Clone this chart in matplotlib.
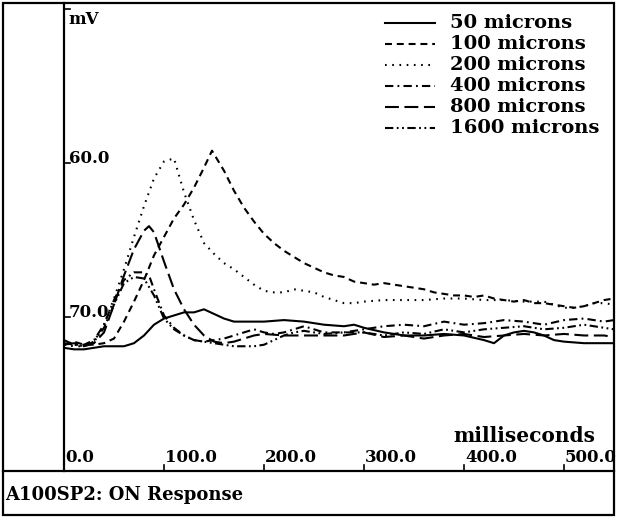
import matplotlib
matplotlib.use("Agg")
import matplotlib.pyplot as plt
from matplotlib.lines import Line2D
from matplotlib.patches import Rectangle
import matplotlib.transforms as mtransforms

plt.rcParams['font.family'] = ['DejaVu Serif']
plt.rcParams['font.weight'] = 'bold'
plt.rcParams['lines.scale_dashes'] = False

# ---------------- data (time in ms, potential in mV) ----------------
t_50 = [0, 10, 20, 30, 40, 50, 60, 70, 80, 90, 100, 110, 120, 130, 140, 150, 160, 170, 180, 190,
        200, 220, 240, 260, 280, 290, 300, 320, 340, 360, 380, 400, 420, 430, 440, 450, 460, 470,
        480, 490, 500, 520, 540, 550]
v_50 = [-72.0, -72.1, -72.1, -72.0, -71.9, -71.9, -71.9, -71.7, -71.2, -70.5, -70.1, -69.9, -69.7,
        -69.7, -69.5, -69.8, -70.1, -70.3, -70.3, -70.3, -70.3, -70.2, -70.3, -70.5, -70.6, -70.5,
        -70.7, -71.0, -71.2, -71.2, -71.1, -71.2, -71.5, -71.7, -71.2, -71.0, -70.9, -71.0, -71.2,
        -71.5, -71.6, -71.7, -71.7, -71.7]

t_100 = [0, 10, 20, 30, 40, 50, 60, 70, 80, 90, 100, 110, 120, 130, 140, 148, 160, 170, 180, 190,
         200, 210, 220, 230, 240, 250, 260, 270, 280, 290, 300, 310, 320, 330, 340, 350, 360, 370,
         380, 390, 400, 410, 420, 430, 440, 450, 460, 470, 480, 490, 500, 510, 520, 530, 540, 550]
v_100 = [-71.8, -71.6, -71.8, -71.8, -71.7, -71.4, -70.3, -69.0, -67.6, -66.0, -64.8, -63.6, -62.7,
         -61.6, -60.3, -59.2, -60.5, -61.8, -62.9, -63.8, -64.6, -65.2, -65.7, -66.1, -66.5, -66.8,
         -67.1, -67.3, -67.4, -67.7, -67.8, -67.9, -67.8, -67.9, -68.0, -68.1, -68.2, -68.4, -68.5,
         -68.6, -68.6, -68.7, -68.6, -68.8, -68.9, -69.0, -68.9, -69.1, -69.1, -69.2, -69.3, -69.4,
         -69.3, -69.1, -68.9, -68.8]

t_200 = [0, 10, 20, 30, 40, 50, 60, 70, 80, 90, 100, 110, 120, 130, 140, 150, 160, 170, 180, 190,
         200, 210, 220, 230, 240, 250, 260, 270, 280, 290, 300, 320, 340, 360, 380, 400, 420, 440,
         460, 480, 490, 500, 510, 520, 530, 540, 550]
v_200 = [-71.8, -71.9, -71.9, -71.6, -70.5, -68.8, -66.9, -64.8, -62.8, -61.0, -59.9, -59.7, -61.9,
         -63.7, -65.2, -65.9, -66.5, -66.9, -67.4, -67.9, -68.3, -68.4, -68.4, -68.2, -68.3, -68.4,
         -68.7, -68.9, -69.1, -69.1, -69.0, -68.9, -68.9, -68.9, -68.8, -68.8, -68.9, -68.9, -69.0,
         -69.0, -69.2, -69.4, -69.4, -69.3, -69.1, -69.1, -69.2]

t_400 = [0, 10, 20, 30, 40, 50, 60, 70, 80, 85, 90, 100, 110, 120, 130, 140, 150, 160, 170, 180,
         190, 200, 210, 220, 230, 240, 250, 260, 280, 300, 320, 340, 360, 380, 400, 420, 440, 460,
         480, 500, 520, 540, 550]
v_400 = [-71.7, -71.8, -71.8, -71.5, -70.5, -68.9, -67.6, -67.1, -67.1, -67.3, -68.2, -69.9, -70.7,
         -71.2, -71.5, -71.6, -71.5, -71.4, -71.2, -71.0, -70.8, -71.0, -71.1, -71.0, -70.8, -70.6,
         -70.8, -71.0, -71.0, -70.8, -70.6, -70.5, -70.6, -70.3, -70.5, -70.4, -70.2, -70.3, -70.5,
         -70.2, -70.1, -70.3, -70.2]

t_800 = [0, 10, 20, 30, 40, 50, 60, 70, 80, 85, 90, 100, 110, 120, 130, 140, 150, 160, 170, 180,
         190, 200, 220, 240, 260, 280, 300, 320, 340, 360, 380, 400, 420, 440, 460, 480, 500, 520,
         540, 550]
v_800 = [-71.8, -71.7, -71.9, -71.7, -71.0, -69.2, -67.3, -65.6, -64.4, -64.1, -64.5, -66.4, -68.2,
         -69.5, -70.5, -71.2, -71.6, -71.7, -71.6, -71.4, -71.2, -71.1, -71.2, -71.2, -71.2, -71.2,
         -71.0, -71.3, -71.2, -71.4, -71.2, -71.1, -71.3, -71.2, -71.1, -71.2, -71.1, -71.2, -71.2,
         -71.3]

t_1600 = [0, 10, 20, 30, 40, 50, 60, 70, 80, 90, 100, 110, 120, 130, 140, 150, 160, 170, 180, 190,
          200, 210, 220, 230, 240, 250, 260, 280, 300, 320, 340, 360, 380, 400, 420, 440, 460, 480,
          500, 520, 540, 550]
v_1600 = [-71.5, -71.8, -71.9, -71.6, -70.7, -69.2, -67.8, -67.4, -67.5, -68.6, -70.1, -70.8, -71.2,
          -71.5, -71.6, -71.7, -71.8, -71.9, -71.9, -71.9, -71.8, -71.5, -71.2, -71.0, -70.9, -71.0,
          -71.1, -71.0, -71.0, -71.2, -71.0, -71.1, -70.8, -71.0, -70.8, -70.7, -70.6, -70.8, -70.7,
          -70.5, -70.7, -70.8]

series_labels = ["50 microns", "100 microns", "200 microns", "400 microns", "800 microns",
                 "1600 microns"]
x_ticks = [100, 200, 300, 400, 500]
x_tick_labels = ["0.0", "100.0", "200.0", "300.0", "400.0", "500.0"]
y_ticks = [-60, -70]
y_tick_labels = ["60.0", "70.0"]
title_text = "A100SP2: ON Response"

# ---------------- figure ----------------
W, H = 618, 517
fig = plt.figure(figsize=(W / 100, H / 100), dpi=100)

def fx(px):
    return px / W

def fy(py):
    return 1 - py / H

ax_left, ax_right, ax_top, ax_bot = 64, 614, 9, 471
ax = fig.add_axes([fx(ax_left), fy(ax_bot), fx(ax_right) - fx(ax_left), fy(ax_top) - fy(ax_bot)])
ax.set_xlim(0, 550)
ax.set_ylim(-80, -50)
for s in ax.spines.values():
    s.set_visible(False)
ax.set_xticks([])
ax.set_yticks([])
ax.patch.set_alpha(0)

dash_styles = [
    '-',
    (0, (5, 3.5)),
    (0, (1.2, 4)),
    (0, (6, 3, 1.3, 3)),
    (0, (10, 4)),
    (0, (6, 2.5, 1.3, 2.5, 1.3, 2.5)),
]
ts = [t_50, t_100, t_200, t_400, t_800, t_1600]
vs = [v_50, v_100, v_200, v_400, v_800, v_1600]
for t, v, ls, lab in zip(ts, vs, dash_styles, series_labels):
    ax.plot(t, v, color='black', lw=1.5, linestyle=ls, label=lab)

# frame lines
lw_frame = 1.6
fig.add_artist(Rectangle((fx(3), fy(515)), fx(614) - fx(3), fy(3) - fy(515),
                         transform=fig.transFigure, fill=False, lw=lw_frame, ec='black'))
fig.add_artist(Line2D([fx(3), fx(614)], [fy(471), fy(471)], transform=fig.transFigure,
                      color='black', lw=lw_frame))
fig.add_artist(Line2D([fx(64), fx(64)], [fy(3), fy(471)], transform=fig.transFigure,
                      color='black', lw=lw_frame))

# x ticks (upward from axis line) and labels
bl = mtransforms.blended_transform_factory(ax.transData, ax.transAxes)
for xt in x_ticks:
    ax.plot([xt, xt], [0, 6 / (ax_bot - ax_top)], transform=bl, color='black', lw=1.2,
            clip_on=False)
fontsz = 12
lab_tr = mtransforms.offset_copy(bl, fig=fig, x=1, y=9, units='dots')
for xv, lab in zip([0] + x_ticks, x_tick_labels):
    ax.text(xv, 0, lab, transform=lab_tr, ha='left', va='baseline', fontsize=fontsz,
            fontweight='bold')

ax.text(fx(453), fy(442), "milliseconds", transform=fig.transFigure, ha='left',
        va='baseline', fontsize=14.5, fontweight='bold')

# y ticks (rightward) and labels
bly = mtransforms.blended_transform_factory(ax.transAxes, ax.transData)
for yt, lab in zip(y_ticks + [-50], y_tick_labels + [None]):
    ax.plot([0, 6 / (ax_right - ax_left)], [yt, yt], transform=bly, color='black', lw=1.2,
            clip_on=False)
    if lab:
        ytr = mtransforms.offset_copy(bly, fig=fig, x=5, y=0, units='dots')
        ax.text(0, yt, lab, transform=ytr, ha='left', va='baseline', fontsize=fontsz,
                fontweight='bold')
mv_tr = mtransforms.offset_copy(bly, fig=fig, x=4, y=-2, units='dots')
ax.text(0, -50, "mV", transform=mv_tr, ha='left', va='top', fontsize=fontsz, fontweight='bold')

# legend (drawn manually in figure pixels)
for i, (ls, lab) in enumerate(zip(dash_styles, series_labels)):
    yrow = 23 + 21 * i
    fig.add_artist(Line2D([fx(385), fx(435)], [fy(yrow), fy(yrow)], transform=fig.transFigure,
                          color='black', lw=1.5, linestyle=ls))
    fig.text(fx(450), fy(yrow), lab, ha='left', va='center', fontsize=14, fontweight='bold')

fig.text(fx(5), fy(500), title_text, ha='left', va='baseline', fontsize=13,
         fontweight='bold')

fig.savefig("out.png", dpi=100)
